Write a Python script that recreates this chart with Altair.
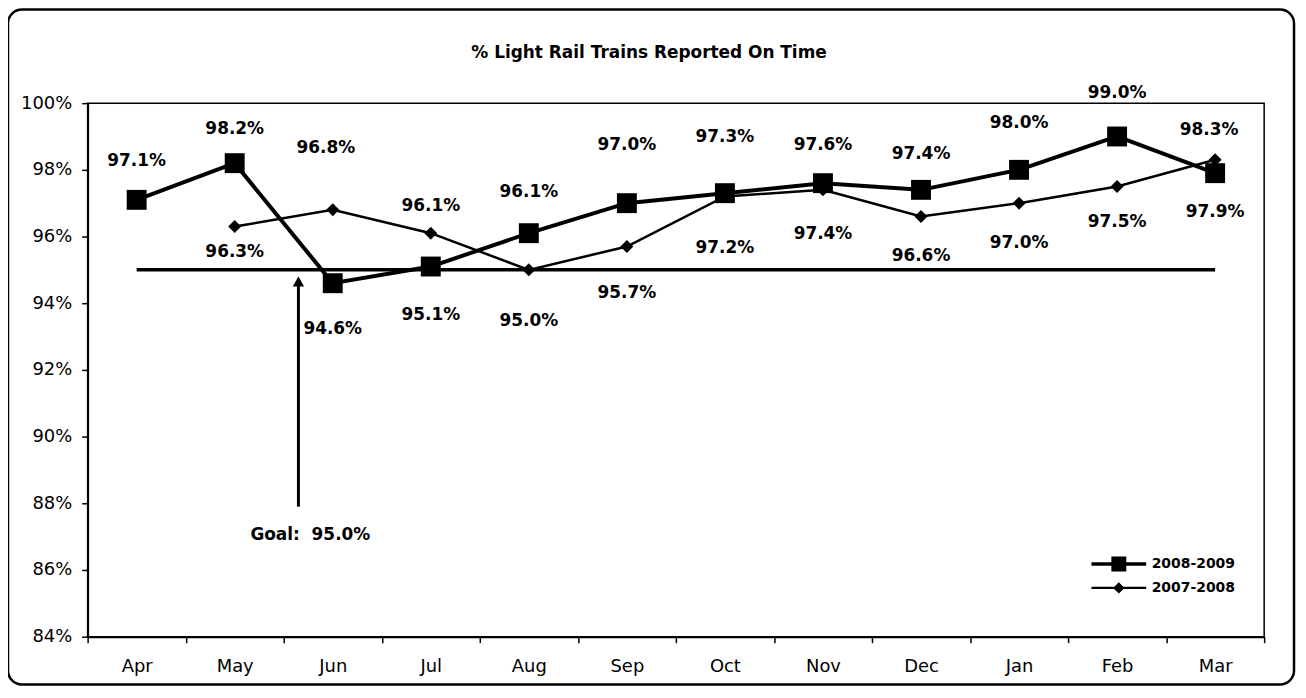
import altair as alt
import pandas as pd

# ---------------- data ----------------
months = ["Apr", "May", "Jun", "Jul", "Aug", "Sep", "Oct", "Nov", "Dec", "Jan", "Feb", "Mar"]
fy0809 = [97.1, 98.2, 94.6, 95.1, 96.1, 97.0, 97.3, 97.6, 97.4, 98.0, 99.0, 97.9]
fy0708 = [None, 96.3, 96.8, 96.1, 95.0, 95.7, 97.2, 97.4, 96.6, 97.0, 97.5, 98.3]
series_names = ["2008-2009", "2007-2008"]
goal_value = 95.0
goal_text = "Goal:\u00a0\u00a095.0%"
y_ticks = [84, 86, 88, 90, 92, 94, 96, 98, 100]
title_text = "% Light Rail Trains Reported On Time"

# label placement offsets (pixels; style only)
dy0809 = [-39, -34, 46, 49, -41, -58, -56, -38, -36, -47, -44, 39]
dy0708 = [0, 26, -62, -27, 51, 47, 52, 44, 40, 40, 36, -30]
dx0708 = [0, 0, -7, 0, 0, 0, 0, 0, 0, 0, 0, -6]

# annotation anchor (category-index units / percent)
arrow_x = 1.65
arrow_y_bottom = 87.9
arrow_y_top = 94.65
goal_text_x = 1.16
goal_text_y = 87.05

# ---------------- layout ----------------
W, H = 1182, 536
YMIN, YMAX = 84, 100
px_y = H / (YMAX - YMIN)
px_x = W / len(months)
FONT = "DejaVu Sans"

rows = []
for name, vals, dys, dxs in [
    (series_names[0], fy0809, dy0809, [0] * 12),
    (series_names[1], fy0708, dy0708, dx0708),
]:
    for i, v in enumerate(vals):
        if v is None:
            continue
        rows.append({
            "i": i, "month": months[i], "series": name, "v": v,
            "label": f"{v:.1f}%",
            "ly": v - dys[i] / px_y,
            "lx": i + dxs[i] / px_x,
        })
df = pd.DataFrame(rows)

months_js = "[" + ",".join(f"'{m}'" for m in months) + "]"
xscale = alt.Scale(domain=[-0.5, len(months) - 0.5], nice=False, zero=False)
yscale = alt.Scale(domain=[YMIN, YMAX], nice=False, zero=False)

xaxis = alt.Axis(
    values=[k - 0.5 for k in range(len(months) + 1)],
    labelExpr=f"{months_js}[datum.value + 0.5] || ''",
    labelOffset=px_x / 2, labelFlush=False, labelOverlap=False, labelBound=False,
    tickSize=6, tickColor="black", tickWidth=1.5,
    domainColor="black", domainWidth=2, grid=False, title=None,
    labelFont=FONT, labelFontSize=18, labelColor="black", labelPadding=15,
)
yaxis = alt.Axis(
    values=y_ticks, labelExpr="datum.value + '%'",
    tickSize=6, tickColor="black", tickWidth=1.5,
    domainColor="black", domainWidth=2, grid=False, title=None,
    labelFont=FONT, labelFontSize=18, labelColor="black", labelPadding=10,
)


def X(field):
    return alt.X(f"{field}:Q", scale=xscale, axis=xaxis)


def Y(field):
    return alt.Y(f"{field}:Q", scale=yscale, axis=yaxis)


one = pd.DataFrame({"t": [title_text]})

frame = alt.Chart(one).mark_rect(
    fill="transparent", stroke="black", strokeWidth=2.5, cornerRadius=14
).encode(
    x=alt.value(-80), x2=alt.value(W + 30), y=alt.value(-94), y2=alt.value(H + 48)
)

plot_border = alt.Chart(one).mark_rect(
    fill="transparent", stroke="black", strokeWidth=1.5
).encode(x=alt.value(0), x2=alt.value(W), y=alt.value(0), y2=alt.value(H))

title_mark = alt.Chart(one).mark_text(
    align="center", baseline="middle", font=FONT, fontSize=17, fontWeight="bold", color="black"
).encode(x=alt.value(564), y=alt.value(-50), text="t:N")

goal_df = pd.DataFrame({"x": [0], "x2": [len(months) - 1], "y": [goal_value]})
goal_rule = alt.Chart(goal_df).mark_rule(color="black", strokeWidth=3.5).encode(
    x=X("x"), x2="x2:Q", y=Y("y")
)

arrow_df = pd.DataFrame({"x": [arrow_x], "y": [arrow_y_bottom], "y2": [arrow_y_top],
                         "tx": [goal_text_x], "ty": [goal_text_y], "t": [goal_text]})
arrow_line = alt.Chart(arrow_df).mark_rule(color="black", strokeWidth=3).encode(
    x=X("x"), y=Y("y"), y2="y2:Q"
)
arrow_head = alt.Chart(arrow_df).mark_point(
    shape="triangle-up", filled=True, color="black", size=130, opacity=1
).encode(x=X("x"), y=Y("y2"))
goal_label = alt.Chart(arrow_df).mark_text(
    align="left", baseline="middle", font=FONT, fontSize=17, fontWeight="bold", color="black"
).encode(x=X("tx"), y=Y("ty"), text="t:N")

d1 = alt.Chart(df).transform_filter(f"datum.series == '{series_names[0]}'")
d2 = alt.Chart(df).transform_filter(f"datum.series == '{series_names[1]}'")

line1 = d1.mark_line(color="black", strokeWidth=4).encode(x=X("i"), y=Y("v"), order="i:Q")
pts1 = d1.mark_point(shape="square", filled=True, color="black", size=400, opacity=1).encode(
    x=X("i"), y=Y("v"))
line2 = d2.mark_line(color="black", strokeWidth=2.5).encode(x=X("i"), y=Y("v"), order="i:Q")
pts2 = d2.mark_point(shape="diamond", filled=True, color="black", size=170, opacity=1).encode(
    x=X("i"), y=Y("v"))

labels = alt.Chart(df).mark_text(
    align="center", baseline="middle", font=FONT, fontSize=17, fontWeight="bold", color="black"
).encode(x=X("lx"), y=Y("ly"), text="label:N")

# legend glyphs: line segment (as thin filled bar) + marker, in unit coords
sq_path = "M-5.5,-0.36H5.5V0.36H-5.5ZM-1.5,-1.5H1.5V1.5H-1.5Z"
di_path = "M-5.5,-0.24H5.5V0.24H-5.5ZM0,-1.15L1.15,0L0,1.15L-1.15,0Z"
legend_layer = alt.Chart(pd.DataFrame({"series": series_names})).transform_filter(
    "false"
).mark_point(filled=True, color="black", opacity=1).encode(
    shape=alt.Shape(
        "series:N",
        scale=alt.Scale(domain=series_names, range=[sq_path, di_path]),
        legend=alt.Legend(
            title=None, orient="none", legendX=1029, legendY=456,
            symbolSize=100, symbolFillColor="black", symbolOpacity=1,
            labelFont=FONT, labelFontSize=14, labelFontWeight="bold", labelColor="black",
            labelOffset=26, rowPadding=4, padding=0,
        ),
    )
)

chart = alt.layer(
    frame, plot_border, title_mark, goal_rule, arrow_line, arrow_head, goal_label,
    line1, pts1, line2, pts2, labels, legend_layer,
).properties(
    width=W, height=H,
    padding={"left": 80, "top": 94, "right": 34, "bottom": 50},
    autosize=alt.AutoSizeParams(type="none"),
).configure_view(stroke="black", strokeWidth=2).configure(background="white")

chart.save("out.html", embed_options={"renderer": "svg", "actions": False})
